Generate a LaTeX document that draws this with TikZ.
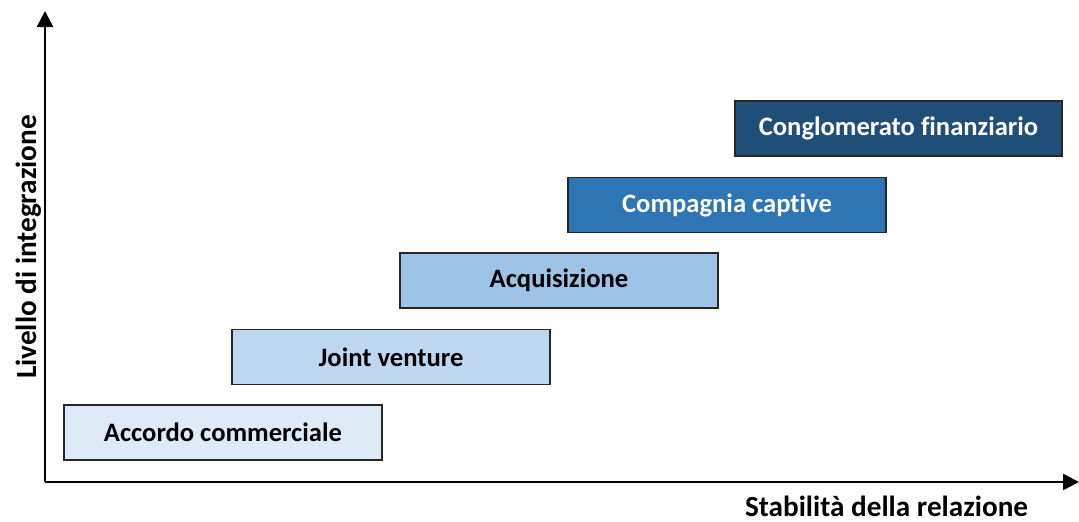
\documentclass[tikz,border=0pt]{standalone}
\usepackage{fontspec}
\setmainfont[RawFeature={-liga;-clig;-calt;-dlig}]{Carlito}
\usetikzlibrary{arrows.meta}
\definecolor{lvA}{HTML}{DEEBF7}
\definecolor{lvB}{HTML}{BDD7EE}
\definecolor{lvC}{HTML}{9DC3E6}
\definecolor{lvD}{HTML}{2E75B6}
\definecolor{lvE}{HTML}{1F4E79}
\tikzset{
  stage/.style={draw=black!85, line width=1.6pt, minimum width=318pt, minimum height=55pt,
    inner sep=0pt, font=\fontsize{26.6}{30}\selectfont\bfseries},
  axis/.style={line width=2.6pt, -{Triangle[length=16pt,width=16pt]}},
  axislabel/.style={font=\fontsize{29.2}{32}\selectfont\bfseries, inner sep=0pt, anchor=base}
}
\begin{document}
\begin{tikzpicture}[x=1pt,y=-1pt]
\useasboundingbox (0,0) rectangle (1079,522);
% axes
\coordinate (origin) at (45,482);
\coordinate (ytop) at (45,11);
\coordinate (xend) at (1079,482);
\draw[axis] (origin) -- (ytop);
\draw[axis] (origin) -- (xend);
\node[axislabel, rotate=90] (ylab) at (36,247) {Livello di integrazione};
\node[axislabel] (xlab) at (886.5,516) {Stabilità della relazione};
% stages
\node[stage, fill=lvA] (s1) at (223,432.5) {Accordo commerciale};
\node[stage, fill=lvB] (s2) at (391,357) {Joint venture};
\node[stage, fill=lvC] (s3) at (559,280.5) {Acquisizione};
\node[stage, fill=lvD, text=white] (s4) at (727,205) {Compagnia captive};
\node[stage, fill=lvE, text=white, minimum width=327pt] (s5) at (898.5,128.5) {Conglomerato finanziario};
\end{tikzpicture}
\end{document}
